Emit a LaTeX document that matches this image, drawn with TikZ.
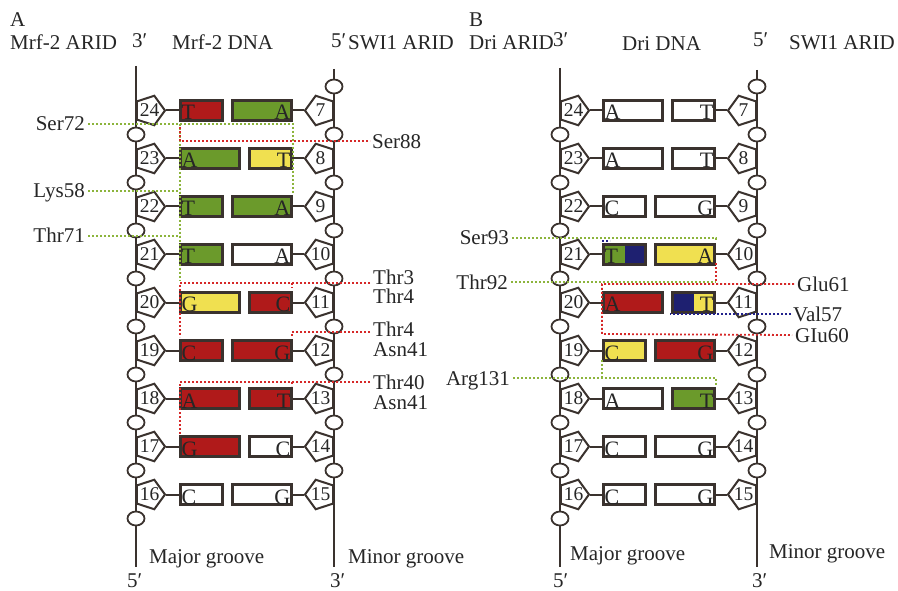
\documentclass[tikz,border=0pt]{standalone}
\usepackage{fontspec}
\setmainfont{Liberation Serif}
\usetikzlibrary{shapes.geometric}
\definecolor{cR}{HTML}{B01A1A}
\definecolor{cG}{HTML}{6B9A2B}
\definecolor{cY}{HTML}{F0E050}
\definecolor{cN}{HTML}{1E2070}
\definecolor{cB}{HTML}{3A322E}
\definecolor{dR}{HTML}{D62828}
\definecolor{dG}{HTML}{8CB43C}
\definecolor{dN}{HTML}{22228C}
\begin{document}
\begin{tikzpicture}[x=1pt,y=-1pt,
 bb/.style={draw=cB,line width=2pt},
 pent/.style={regular polygon,regular polygon sides=5,minimum size=31pt,inner sep=0pt,draw=cB,line width=2pt,fill=white},
 ph/.style={ellipse,minimum width=17pt,minimum height=14pt,inner sep=0pt,draw=cB,line width=1.8pt,fill=white},
 bx/.style={rectangle,draw=cB,line width=2.6pt,minimum height=19.5pt,inner sep=0pt},
 fR/.style={fill=cR}, fG/.style={fill=cG}, fY/.style={fill=cY}, fW/.style={fill=white},
 fGN/.style={fill=cG,path picture={\fill[cN] (path picture bounding box.north) rectangle (path picture bounding box.south east);}},
 fNY/.style={fill=cY,path picture={\fill[cN] (path picture bounding box.north west) rectangle (path picture bounding box.south);}},
 num/.style={font=\fontsize{19.5}{19.5}\selectfont,inner sep=0pt,text=black!85},
 let/.style={font=\fontsize{22}{22}\selectfont,inner sep=0pt,text=black!85},
 lab/.style={font=\fontsize{21}{21}\selectfont,inner sep=0pt,text=black!85,text height=14pt,text depth=0pt},
 txt/.style={font=\fontsize{21}{21}\selectfont,inner sep=0pt,text=black!85},
 gdot/.style={draw=dG,line width=1.8pt,dash pattern=on 1.8pt off 2.2pt},
 rdot/.style={draw=dR,line width=1.8pt,dash pattern=on 1.8pt off 2.2pt},
 ndot/.style={draw=dN,line width=1.8pt,dash pattern=on 1.8pt off 2.2pt},
]
\fill[white] (0,0) rectangle (898,591);
\useasboundingbox (0,0) rectangle (898,591);

% backbones
\coordinate (ALt) at (136,66);  \coordinate (ALb) at (136,567);
\coordinate (ARt) at (334,69);  \coordinate (ARb) at (334,567);
\coordinate (BLt) at (560,68);  \coordinate (BLb) at (560,567);
\coordinate (BRt) at (757,70);  \coordinate (BRb) at (757,567);
\draw[bb] (ALt) -- (ALb);
\draw[bb] (ARt) -- (ARb);
\draw[bb] (BLt) -- (BLb);
\draw[bb] (BRt) -- (BRb);

% phosphates
\foreach \xl/\xr/\P in {136/334/A, 560/757/B}{
  \foreach \k in {0,...,8}{
    \node[ph] (\P cl\k) at (\xl,{134.5+48*\k}) {};
    \node[ph] (\P cr\k) at (\xr,{86.5+48*\k}) {};
  }
}

% panel A rows
\foreach \k/\nl/\nr/\la/\sa/\ra/\sr/\w in {
 0/24/7/T/fR/A/fG/45, 1/23/8/A/fG/T/fY/62, 2/22/9/T/fG/A/fG/45,
 3/21/10/T/fG/A/fW/45, 4/20/11/G/fY/C/fR/62, 5/19/12/C/fR/G/fR/45,
 6/18/13/A/fR/T/fR/62, 7/17/14/G/fR/C/fW/62, 8/16/15/C/fW/G/fW/45}{
  \pgfmathsetmacro\yy{110.5+48*\k}
  \pgfmathsetmacro\rw{107-\w}
  \node[pent,shape border rotate=-90] (AL\k) at (149.5,\yy) {};
  \node[num] at (AL\k.center) {\nl};
  \node[pent,shape border rotate=90] (AR\k) at (320.5,\yy) {};
  \node[num] at (AR\k.center) {\nr};
  \node[bx,\sa,minimum width={\w-2.5}] (ABl\k) at ({179+\w/2},\yy) {};
  \node[bx,\sr,minimum width={\rw-2.5}] (ABr\k) at ({293-\rw/2},\yy) {};
  \node[let,anchor=base west] at (181.5,{\yy+9.5}) {\la};
  \node[let,anchor=base east] at (290.5,{\yy+9.5}) {\ra};
  \draw[bb] (AL\k.east) -- (ABl\k.west);
  \draw[bb] (AR\k.west) -- (ABr\k.east);
}

% panel B rows
\foreach \k/\nl/\nr/\la/\sa/\ra/\sr/\w in {
 0/24/7/A/fW/T/fW/62, 1/23/8/A/fW/T/fW/62, 2/22/9/C/fW/G/fW/45,
 3/21/10/T/fGN/A/fY/45, 4/20/11/A/fR/T/fNY/62, 5/19/12/C/fY/G/fR/45,
 6/18/13/A/fW/T/fG/62, 7/17/14/C/fW/G/fW/45, 8/16/15/C/fW/G/fW/45}{
  \pgfmathsetmacro\yy{110.5+48*\k}
  \pgfmathsetmacro\rw{107-\w}
  \node[pent,shape border rotate=-90] (BL\k) at (573.5,\yy) {};
  \node[num] at (BL\k.center) {\nl};
  \node[pent,shape border rotate=90] (BR\k) at (743.5,\yy) {};
  \node[num] at (BR\k.center) {\nr};
  \node[bx,\sa,minimum width={\w-2.5}] (BBl\k) at ({602+\w/2},\yy) {};
  \node[bx,\sr,minimum width={\rw-2.5}] (BBr\k) at ({716-\rw/2},\yy) {};
  \node[let,anchor=base west] at (604.5,{\yy+9.5}) {\la};
  \node[let,anchor=base east] at (713.5,{\yy+9.5}) {\ra};
  \draw[bb] (BL\k.east) -- (BBl\k.west);
  \draw[bb] (BR\k.west) -- (BBr\k.east);
}

% headers
\node[txt,anchor=base west] (hA) at (10,27) {A};
\node[txt,anchor=base west] (hA1) at (10,50) {Mrf-2 ARID};
\node[txt,anchor=base west] (hA2) at (132,48) {3′};
\node[txt,anchor=base west] (hA3) at (172,50) {Mrf-2 DNA};
\node[txt,anchor=base west] (hA4) at (331,48) {5′};
\node[txt,anchor=base west] (hA5) at (348,50) {SWI1 ARID};
\node[txt,anchor=base west] (hB) at (469,27) {B};
\node[txt,anchor=base west] (hB1) at (469,50) {Dri ARID};
\node[txt,anchor=base west] (hB2) at (553,47) {3′};
\node[txt,anchor=base west] (hB3) at (622,51) {Dri DNA};
\node[txt,anchor=base west] (hB4) at (753,47) {5′};
\node[txt,anchor=base west] (hB5) at (789,50) {SWI1 ARID};

% bottom
\node[txt,anchor=base west] (fA1) at (149,563) {Major groove};
\node[txt,anchor=base west] (fA2) at (348,563) {Minor groove};
\node[txt,anchor=base west] (fA3) at (127,587) {5′};
\node[txt,anchor=base west] (fA4) at (330,587) {3′};
\node[txt,anchor=base west] (fB1) at (570,560) {Major groove};
\node[txt,anchor=base west] (fB2) at (769,558) {Minor groove};
\node[txt,anchor=base west] (fB3) at (553,587) {5′};
\node[txt,anchor=base west] (fB4) at (752,587) {3′};

% panel A contacts
\node[lab,anchor=east] (ser72) at (85,124) {Ser72};
\node[lab,anchor=east] (lys58) at (85,191) {Lys58};
\node[lab,anchor=east] (thr71) at (85,236) {Thr71};
\draw[gdot] ([xshift=3pt]ser72.east) -- (293,124) -- (293,194);
\draw[gdot] (180,124) -- (180,281);
\draw[gdot] ([xshift=3pt]lys58.east) -- (180,191);
\draw[gdot] ([xshift=3pt]thr71.east) -- (180,236);

\node[txt,anchor=base west] (ser88) at (372,149) {Ser88};
\node[txt,anchor=base west] (thr3) at (373,284) {Thr3};
\node[txt,anchor=base west] (thr4a) at (373,303) {Thr4};
\node[txt,anchor=base west] (thr4b) at (373,336) {Thr4};
\node[txt,anchor=base west] (asn41a) at (373,356) {Asn41};
\node[txt,anchor=base west] (thr40) at (373,389) {Thr40};
\node[txt,anchor=base west] (asn41b) at (373,409) {Asn41};
\coordinate (e88) at (370,141);
\coordinate (e3) at (370,283);
\coordinate (e4) at (370,332);
\coordinate (e40) at (370,382);
\draw[rdot] (180,127) -- (180,141) -- (e88);
\draw[rdot] (e3) -- (180,283) -- (180,337);
\draw[rdot] (292,283) -- (292,288);
\draw[rdot] (e4) -- (292,332) -- (292,337);
\draw[rdot] (e40) -- (180,382) -- (180,436);
\draw[rdot] (292,382) -- (292,386);

% panel B contacts
\node[lab,anchor=east] (ser93) at (509,238) {Ser93};
\node[lab,anchor=east] (thr92) at (508,282) {Thr92};
\node[lab,anchor=east] (arg131) at (510,378) {Arg131};
\node[lab,anchor=west] (glu61) at (797,284) {Glu61};
\node[lab,anchor=west] (val57) at (793,314) {Val57};
\node[lab,anchor=west] (glu60) at (795,335) {GIu60};
\draw[gdot] ([xshift=3pt]ser93.east) -- (716,238) -- (716,241);
\draw[ndot] (602,241) -- (610,241);
\draw[rdot] (716,263) -- (716,282);
\draw[gdot] ([xshift=3pt]thr92.east) -- (716,282);
\draw[rdot] ([xshift=-3pt]glu61.west) -- (602,284) -- (602,334) -- ([xshift=-3pt]glu60.west);
\draw[rdot] (716,334) -- (716,338);
\draw[ndot] ([xshift=-2pt]val57.west) -- (670,314);
\draw[gdot] ([xshift=3pt]arg131.east) -- (716,378) -- (716,385);
\draw[gdot] (602,360) -- (602,378);
\end{tikzpicture}
\end{document}
